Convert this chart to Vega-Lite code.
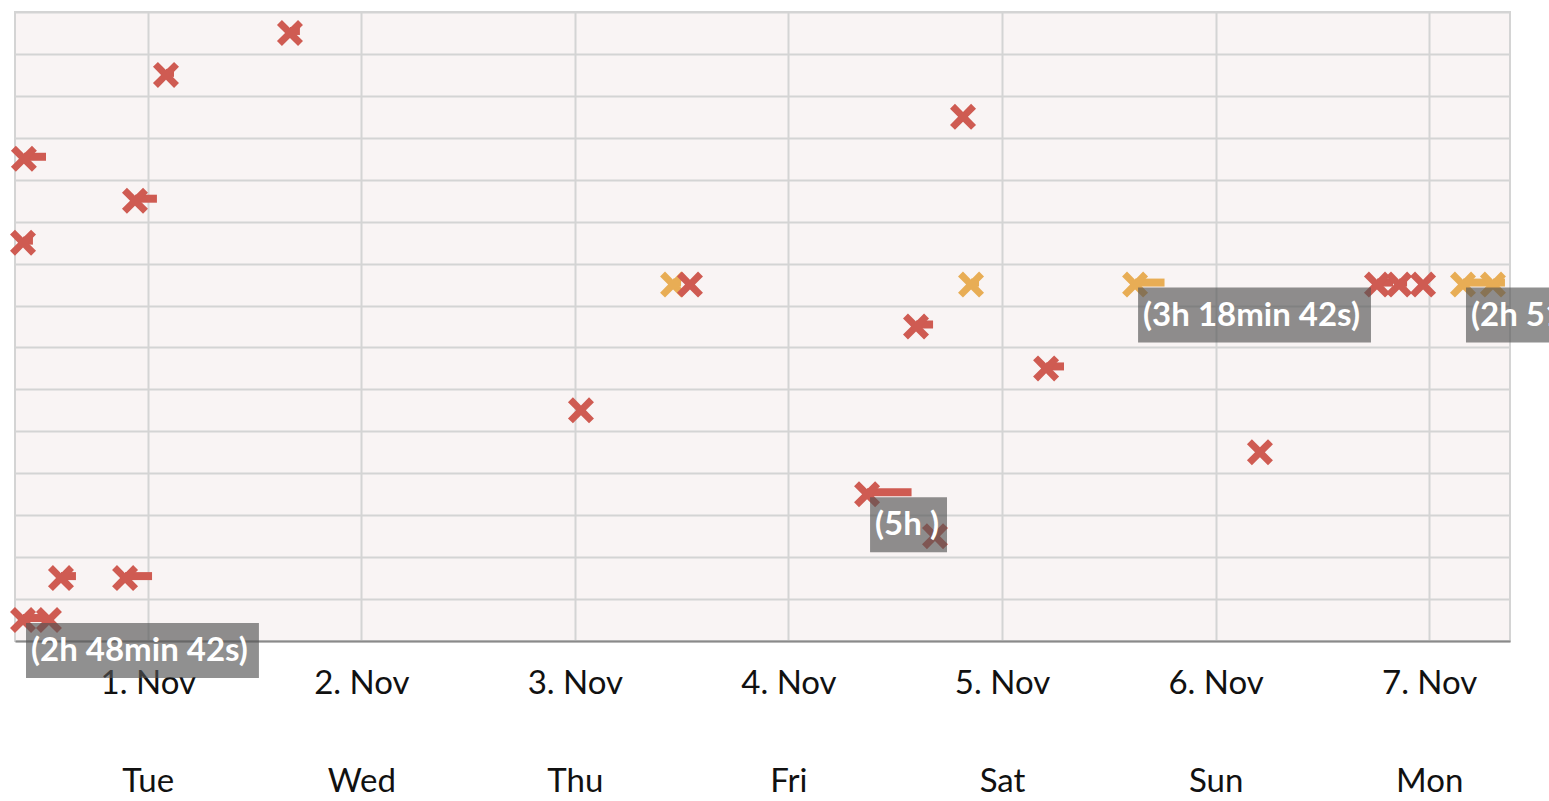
{
  "$schema": "https://vega.github.io/schema/vega-lite/v6.json",
  "width": 1495,
  "height": 629,
  "autosize": {"type": "none"},
  "padding": {"left": 15, "top": 12, "right": 39, "bottom": 160},
  "background": "#ffffff",
  "config": {
    "font": "Lato",
    "view": {"fill": "#f9f4f4", "stroke": "#d4d4d4", "strokeWidth": 2}
  },
  "data": {
    "values": [
      {"row": 1, "start": "2022-11-01T15:59:00Z", "end": "2022-11-01T17:06:00Z", "status": "error"},
      {"row": 2, "start": "2022-11-01T02:03:00Z", "end": "2022-11-01T02:57:00Z", "status": "error"},
      {"row": 3, "start": "2022-11-04T19:37:00Z", "end": "2022-11-04T19:37:00Z", "status": "error"},
      {"row": 4, "start": "2022-10-31T10:05:00Z", "end": "2022-10-31T12:34:00Z", "status": "error"},
      {"row": 5, "start": "2022-10-31T22:34:00Z", "end": "2022-11-01T01:02:00Z", "status": "error"},
      {"row": 6, "start": "2022-10-31T09:59:00Z", "end": "2022-10-31T11:06:00Z", "status": "error"},
      {"row": 7, "start": "2022-11-03T11:02:00Z", "end": "2022-11-03T11:56:00Z", "status": "warning"},
      {"row": 7, "start": "2022-11-03T12:56:00Z", "end": "2022-11-03T12:56:00Z", "status": "error"},
      {"row": 7, "start": "2022-11-04T20:31:00Z", "end": "2022-11-04T21:25:00Z", "status": "warning"},
      {"row": 7, "start": "2022-11-05T14:57:00Z", "end": "2022-11-05T18:15:42Z", "status": "warning", "label": "(3h 18min 42s)"},
      {"row": 7, "start": "2022-11-06T18:08:00Z", "end": "2022-11-06T19:56:00Z", "status": "error"},
      {"row": 7, "start": "2022-11-06T20:37:00Z", "end": "2022-11-06T21:31:00Z", "status": "error"},
      {"row": 7, "start": "2022-11-06T23:19:00Z", "end": "2022-11-06T23:19:00Z", "status": "error"},
      {"row": 7, "start": "2022-11-07T03:48:00Z", "end": "2022-11-07T06:39:12Z", "status": "warning", "label": "(2h 51min 12s)"},
      {"row": 7, "start": "2022-11-07T07:10:00Z", "end": "2022-11-07T08:31:00Z", "status": "warning"},
      {"row": 8, "start": "2022-11-04T14:20:00Z", "end": "2022-11-04T16:15:00Z", "status": "error"},
      {"row": 9, "start": "2022-11-05T04:57:00Z", "end": "2022-11-05T06:58:00Z", "status": "error"},
      {"row": 10, "start": "2022-11-03T00:41:00Z", "end": "2022-11-03T00:41:00Z", "status": "error"},
      {"row": 11, "start": "2022-11-06T04:59:00Z", "end": "2022-11-06T04:59:00Z", "status": "error"},
      {"row": 12, "start": "2022-11-04T08:50:00Z", "end": "2022-11-04T13:50:00Z", "status": "error", "label": "(5h )"},
      {"row": 13, "start": "2022-11-04T16:28:00Z", "end": "2022-11-04T16:28:00Z", "status": "error"},
      {"row": 14, "start": "2022-10-31T14:15:00Z", "end": "2022-10-31T15:56:00Z", "status": "error"},
      {"row": 14, "start": "2022-10-31T21:27:00Z", "end": "2022-11-01T00:29:00Z", "status": "error"},
      {"row": 15, "start": "2022-10-31T09:59:00Z", "end": "2022-10-31T12:47:42Z", "status": "error", "label": "(2h 48min 42s)"},
      {"row": 15, "start": "2022-10-31T12:54:00Z", "end": "2022-10-31T12:54:00Z", "status": "error"}
    ]
  },
  "encoding": {
    "x": {
      "field": "start",
      "type": "temporal",
      "title": null,
      "scale": {
        "type": "utc",
        "domain": [
          {"year": 2022, "month": 10, "date": 31, "hours": 9, "minutes": 5, "utc": true},
          {"year": 2022, "month": 11, "date": 7, "hours": 9, "minutes": 5, "utc": true}
        ],
        "nice": false
      },
      "axis": {
        "values": [
          {"year": 2022, "month": 11, "date": 1, "utc": true},
          {"year": 2022, "month": 11, "date": 2, "utc": true},
          {"year": 2022, "month": 11, "date": 3, "utc": true},
          {"year": 2022, "month": 11, "date": 4, "utc": true},
          {"year": 2022, "month": 11, "date": 5, "utc": true},
          {"year": 2022, "month": 11, "date": 6, "utc": true},
          {"year": 2022, "month": 11, "date": 7, "utc": true}
        ],
        "labelExpr": "[utcFormat(datum.value, '%-d. %b'), utcFormat(datum.value, '%a')]",
        "labelFont": "Lato",
        "labelFontSize": 33,
        "labelColor": "#111111",
        "labelLineHeight": 98,
        "labelPadding": 26,
        "labelBaseline": "top",
        "labelFlush": false,
        "ticks": false,
        "grid": true,
        "gridColor": "#d4d4d4",
        "gridWidth": 2,
        "domainColor": "#8a8a8a",
        "domainWidth": 2
      }
    },
    "y": {
      "field": "row",
      "type": "quantitative",
      "title": null,
      "scale": {"domain": [0.5, 15.5], "reverse": true, "nice": false, "zero": false},
      "axis": {
        "values": [0.5, 1.5, 2.5, 3.5, 4.5, 5.5, 6.5, 7.5, 8.5, 9.5, 10.5, 11.5, 12.5, 13.5, 14.5, 15.5],
        "labels": false,
        "ticks": false,
        "domain": false,
        "grid": true,
        "gridColor": "#d4d4d4",
        "gridWidth": 2
      }
    }
  },
  "layer": [
    {
      "mark": {"type": "rule", "strokeWidth": 8, "strokeCap": "butt", "yOffset": -2},
      "encoding": {
        "x2": {"field": "end"},
        "color": {
          "field": "status",
          "type": "nominal",
          "legend": null,
          "scale": {"domain": ["error", "warning"], "range": ["#cf5b52", "#e8ad55"]}
        }
      }
    },
    {
      "mark": {
        "type": "point",
        "filled": true,
        "opacity": 1,
        "size": 676,
        "shape": "M-1,-0.62 L-0.62,-1 L0,-0.38 L0.62,-1 L1,-0.62 L0.38,0 L1,0.62 L0.62,1 L0,0.38 L-0.62,1 L-1,0.62 L-0.38,0 Z"
      },
      "encoding": {
        "color": {
          "field": "status",
          "type": "nominal",
          "legend": null,
          "scale": {"domain": ["error", "warning"], "range": ["#cf5b52", "#e8ad55"]}
        }
      }
    },
    {
      "transform": [{"filter": "isValid(datum.label)"}],
      "mark": {
        "type": "rect",
        "fill": "#555555",
        "opacity": 0.65,
        "xOffset": 3,
        "x2Offset": {"expr": "length(datum.label) * 17.33 - 6.7"},
        "yOffset": 3,
        "y2Offset": 58
      },
      "encoding": {
        "x2": {"field": "start"},
        "y2": {"field": "row"}
      }
    },
    {
      "transform": [{"filter": "isValid(datum.label)"}],
      "mark": {
        "type": "text",
        "align": "left",
        "baseline": "middle",
        "dx": 8,
        "dy": 31,
        "font": "Lato",
        "fontSize": 33,
        "fontWeight": "bold",
        "color": "#ffffff"
      },
      "encoding": {
        "text": {"field": "label"}
      }
    }
  ]
}
